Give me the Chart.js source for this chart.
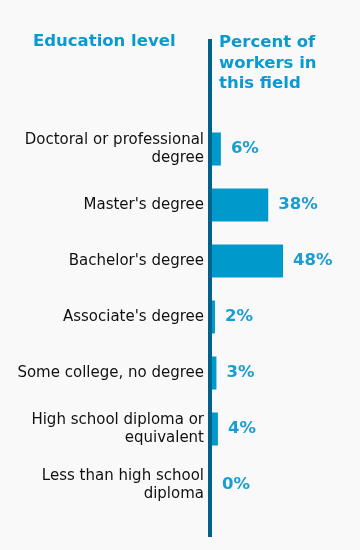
<!DOCTYPE html>
<html>
<head>
<meta charset="utf-8">
<script src="https://cdn.jsdelivr.net/npm/chart.js@4/dist/chart.umd.min.js"></script>
<style>
    html, body { margin: 0; padding: 0; background: #f9f9f9; }
    #wrap { position: relative; width: 360px; height: 550px; }
    .head {
        position: absolute;
        font-family: "DejaVu Sans", Verdana, sans-serif;
        font-weight: bold;
        color: #0a9ad0;
        font-size: 16.5px;
        line-height: 20.5px;
    }
    #h1 { left: 33px; top: 31px; }
    #h2 { left: 219px; top: 32px; }
</style>
</head>
<body>
<div id="wrap">
    <canvas id="chart" width="360" height="550"></canvas>
    <div class="head" id="h1">Education level</div>
    <div class="head" id="h2">Percent of<br>workers in<br>this field</div>
</div>
<script>
const categories = [
    ['Doctoral or professional', 'degree'],
    "Master's degree",
    "Bachelor's degree",
    "Associate's degree",
    'Some college, no degree',
    ['High school diploma or', 'equivalent'],
    ['Less than high school', 'diploma']
];
const percents = [6, 38, 48, 2, 3, 4, 0];

const BAR = '#0099cc';
const AXIS = '#00628a';

const valueLabels = {
    id: 'valueLabels',
    afterDatasetsDraw(chart) {
        const ctx = chart.ctx;
        const meta = chart.getDatasetMeta(0);
        ctx.save();
        ctx.font = 'bold 16.5px "DejaVu Sans", Verdana, sans-serif';
        ctx.fillStyle = '#1a9dd2';
        ctx.textAlign = 'left';
        ctx.textBaseline = 'middle';
        meta.data.forEach((bar, i) => {
            ctx.fillText(percents[i] + '%', bar.x + 10, bar.y);
        });
        ctx.restore();
    }
};

const axisLine = {
    id: 'axisLine',
    afterDatasetsDraw(chart) {
        const a = chart.chartArea;
        const ctx = chart.ctx;
        ctx.save();
        ctx.fillStyle = AXIS;
        ctx.fillRect(a.left - 4, 39, 4, a.bottom + 24 - 39);
        ctx.restore();
    }
};

new Chart(document.getElementById('chart'), {
    type: 'bar',
    data: {
        labels: categories,
        datasets: [{
            data: percents,
            backgroundColor: BAR,
            borderWidth: 0,
            categoryPercentage: 1,
            barPercentage: 0.59
        }]
    },
    options: {
        indexAxis: 'y',
        responsive: false,
        animation: false,
        layout: { padding: { top: 121, bottom: 37, left: 0, right: 0 } },
        plugins: {
            legend: { display: false },
            tooltip: { enabled: false }
        },
        scales: {
            x: {
                display: false,
                min: 0,
                max: 100
            },
            y: {
                grid: { display: false, drawTicks: false },
                border: { display: false },
                afterFit(scale) { scale.width = 212; },
                ticks: {
                    padding: 8,
                    color: '#111111',
                    font: { family: '"DejaVu Sans", Verdana, sans-serif', size: 15, lineHeight: 1.2 }
                }
            }
        }
    },
    plugins: [valueLabels, axisLine]
});
</script>
</body>
</html>
